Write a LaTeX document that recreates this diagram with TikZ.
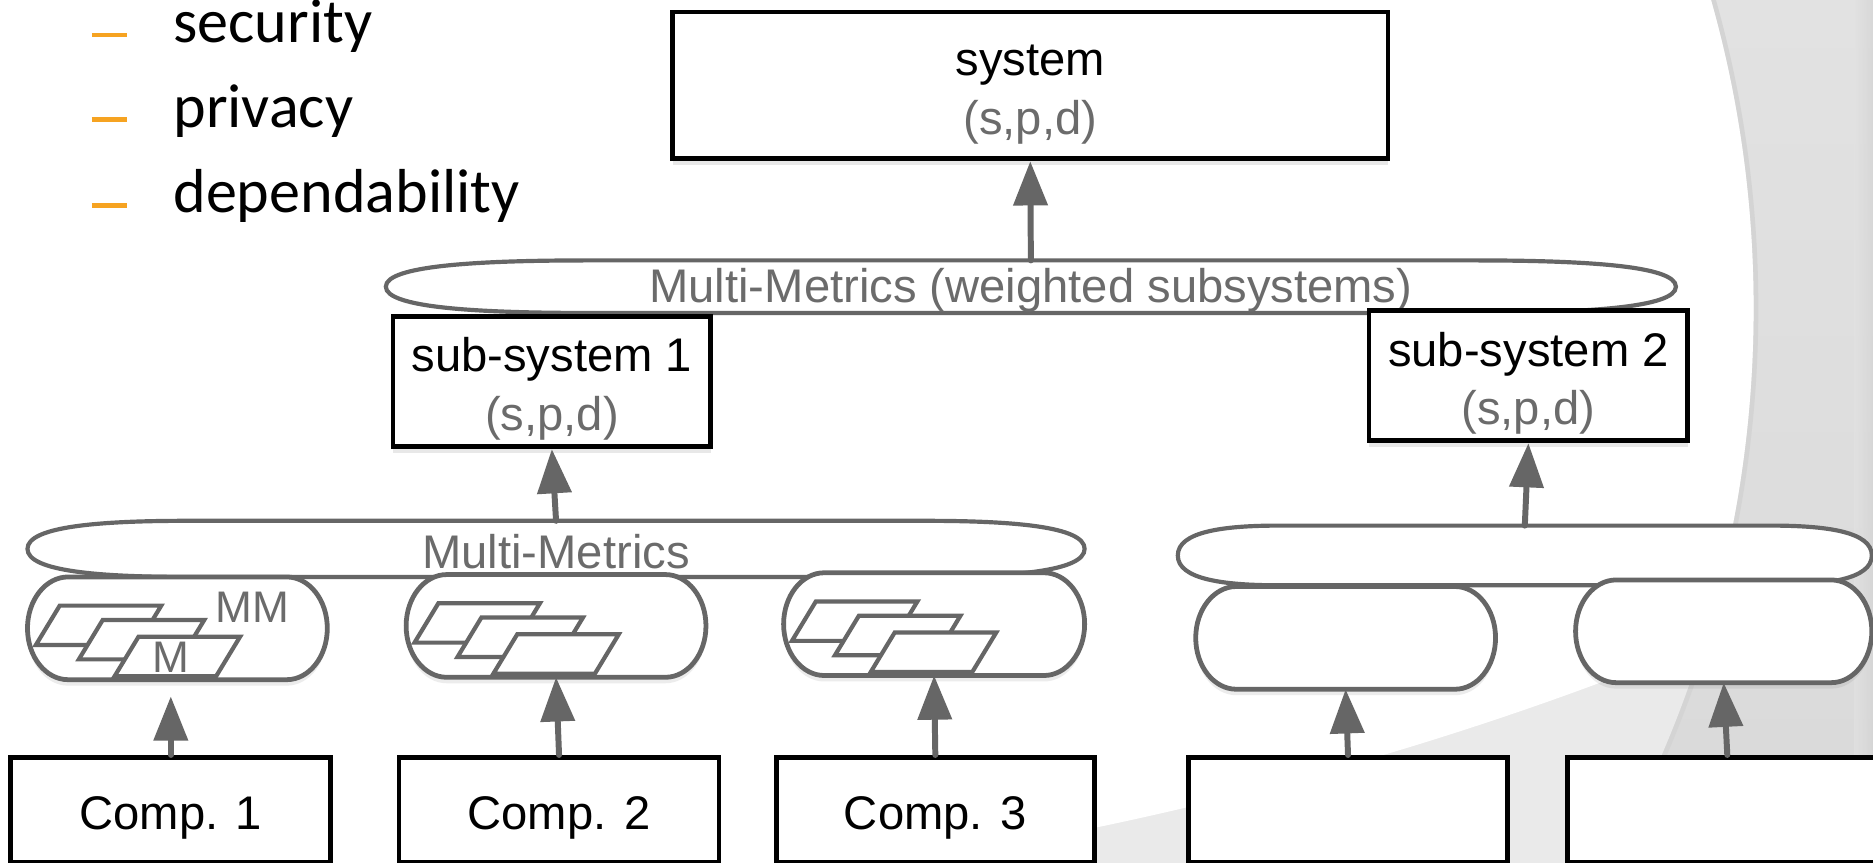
\documentclass[tikz,border=0pt]{standalone}
\usepackage{fontspec}
\setmainfont{Liberation Sans}
\newfontfamily\calibfont{Carlito}
\usetikzlibrary{arrows.meta,calc,shadows}
\definecolor{dg}{HTML}{666666}
\definecolor{tg}{HTML}{6B6B6B}
\definecolor{orng}{HTML}{F6A321}
\definecolor{bgA}{HTML}{EAEAEA}
\definecolor{bgO}{HTML}{E2E2E2}
\definecolor{bgOd}{HTML}{D9D9D9}
\definecolor{rim}{HTML}{D4D4D4}
\newcommand\hvf{\fontsize{39.5pt}{49pt}\selectfont}
\newcommand\bulf{\calibfont\fontsize{52pt}{60pt}\selectfont}
\newcommand\lowr{\rule{0pt}{41pt}}
% capsule with elliptic sides
\newcommand\pillpath[1]{($(#1.north west)+(34,0)$) -- ($(#1.north east)+(-34,0)$) arc[start angle=90,end angle=-90,x radius=34pt,y radius=43pt] -- ($(#1.south west)+(34,0)$) arc[start angle=270,end angle=90,x radius=34pt,y radius=43pt] -- cycle}
% long flat oval: node, end length, half height
\newcommand\ovpath[3]{($(#1.north west)+(#2,0)$) -- ($(#1.north east)+(-#2,0)$)
 .. controls ($(#1.north east)+(-0.45*#2,0)$) and ($(#1.east)+(0,-0.8*#3)$) .. (#1.east)
 .. controls ($(#1.east)+(0,0.8*#3)$) and ($(#1.south east)+(-0.45*#2,0)$) .. ($(#1.south east)+(-#2,0)$)
 -- ($(#1.south west)+(#2,0)$)
 .. controls ($(#1.south west)+(0.45*#2,0)$) and ($(#1.west)+(0,0.8*#3)$) .. (#1.west)
 .. controls ($(#1.west)+(0,-0.8*#3)$) and ($(#1.north west)+(0.45*#2,0)$) .. ($(#1.north west)+(#2,0)$) -- cycle}
\newcommand\paraset[1]{%
 \begin{scope}
  \path[clip] \pillpath{#1};
  \foreach \dx/\dy in {7/24,43/36,73/50}{
   \draw[parst] ($(#1.north west)+(\dx+20,\dy)$) -- ++(85,0) -- ++(-20,33) -- ++(-85,0) -- cycle;
  }
 \end{scope}}
\tikzset{
  blk/.style={draw=black, line width=4pt, fill=white, inner sep=0pt, align=center, font=\hvf,
    drop shadow={opacity=0.18, shadow xshift=0pt, shadow yshift=-5pt}},
  area/.style={inner sep=0pt, outer sep=0pt},
  lbl/.style={inner sep=0pt, font=\hvf, text=tg},
  ovst/.style={draw=dg, line width=3.5pt, fill=white},
  pilst/.style={draw=dg, line width=4pt, fill=white},
  parst/.style={draw=dg, line width=3.5pt, fill=white, line join=miter},
  arr/.style={draw=dg, line width=5pt, line cap=round, -{Triangle[length=37pt,width=28pt]}},
  bul/.style={anchor=base west, inner sep=0pt, font=\bulf},
  dashmark/.style={draw=orng, line width=3.5pt},
}
\begin{document}
\begin{tikzpicture}[x=1pt,y=-1pt]
\useasboundingbox (0,0) rectangle (1568,722);
\clip (0,0) rectangle (1568,722);
% background
\shade[top color=bgO, bottom color=bgOd] (0,0) rectangle (1568,722);
\shade[left color=bgO, right color=black!17, opacity=0.7] (1552,0) rectangle (1568,722);
\draw[rim, line width=6pt] (523,258) circle[radius=946pt];
\fill[bgA] (523,258) circle[radius=945pt];
\begin{scope}
 \clip (523,258) circle[radius=945pt];
 \fill[white] (-10,-10) -- (1600,-10) -- (1600,500) -- (1420,540) .. controls (1250,610) and (1000,690) .. (700,730) -- (-10,730) -- cycle;
\end{scope}
% bullets
\draw[dashmark] (77,29) -- (106,29);
\draw[dashmark] (77,100) -- (106,100);
\draw[dashmark] (77,172) -- (106,172);
\node[bul] (b1) at (145,36) {security};
\node[bul] (b2) at (145,107) {privacy};
\node[bul] (b3) at (145,178) {dependability};
% system
\node[blk, minimum width=599pt, minimum height=123pt] (sys) at (862.5,71.5) {\lowr system\\{\color{tg}(s,p,d)}};
% top oval
\node[area, minimum width=1080pt, minimum height=44pt] (mmtop) at (863,240) {};
\draw[ovst] \ovpath{mmtop}{170}{22};
\node[lbl] (mmtoplbl) at (863,243) {Multi-Metrics (weighted subsystems)};
% subsystems
\node[blk, minimum width=266pt, minimum height=109pt] (sub1) at (462,319.5) {\lowr sub-system 1\\{\color{tg}(s,p,d)}};
\node[blk, minimum width=267pt, minimum height=109pt] (sub2) at (1279.5,314.5) {\lowr sub-system 2\\{\color{tg}(s,p,d)}};
% lower ovals
\node[area, minimum width=885pt, minimum height=47pt] (mm1) at (465.5,459.5) {};
\draw[ovst] \ovpath{mm1}{134}{23.5};
\node[lbl] (mm1lbl) at (465.5,462) {Multi-Metrics};
\node[area, minimum width=581pt, minimum height=50pt] (mm2) at (1276.5,465) {};
\draw[ovst] \ovpath{mm2}{85}{25};
% capsules
\node[area, minimum width=251pt, minimum height=86pt] (p1) at (148.5,526) {};
\node[area, minimum width=251pt, minimum height=86pt] (p2) at (465.5,524) {};
\node[area, minimum width=252pt, minimum height=86pt] (p3) at (782,522.5) {};
\node[area, minimum width=251pt, minimum height=86pt] (p4) at (1126.5,534) {};
\node[area, minimum width=248pt, minimum height=86pt] (p5) at (1443,528.5) {};
\foreach \p in {p1,p2,p3,p4,p5}{
  \draw[pilst, drop shadow={opacity=0.15, shadow xshift=0pt, shadow yshift=-5pt}] \pillpath{\p};
}
\paraset{p1}
\paraset{p2}
\paraset{p3}
\node[lbl, font=\fontsize{37pt}{44pt}\selectfont] (mmlbl) at (211,508) {MM};
\node[lbl, font=\fontsize{37pt}{44pt}\selectfont] (mlbl) at (143,550) {M};
% components
\node[blk, minimum width=268pt, minimum height=88pt] (c1) at (143,678) {\lowr Comp. 1};
\node[blk, minimum width=268pt, minimum height=88pt] (c2) at (468,678) {\lowr Comp. 2};
\node[blk, minimum width=266pt, minimum height=88pt] (c3) at (783,678) {\lowr Comp. 3};
\node[blk, minimum width=267pt, minimum height=88pt] (c4) at (1128.5,678) {};
\node[blk, minimum width=268pt, minimum height=88pt] (c5) at (1446,678) {};
% arrows
\draw[arr] (mmtop.north) -- (sys.south);
\draw[arr] (mm1.north) -- (sub1.south);
\draw[arr] (mm2.north) -- (sub2.south);
\draw[arr, shorten >=14pt] (c1.north) -- (c1.north |- p1.south);
\draw[arr] (c2.north) -- (p2.south);
\draw[arr] (c3.north) -- (p3.south);
\draw[arr] (c4.north) -- (p4.south);
\draw[arr] (c5.north) -- (p5.south);
\end{tikzpicture}
\end{document}
